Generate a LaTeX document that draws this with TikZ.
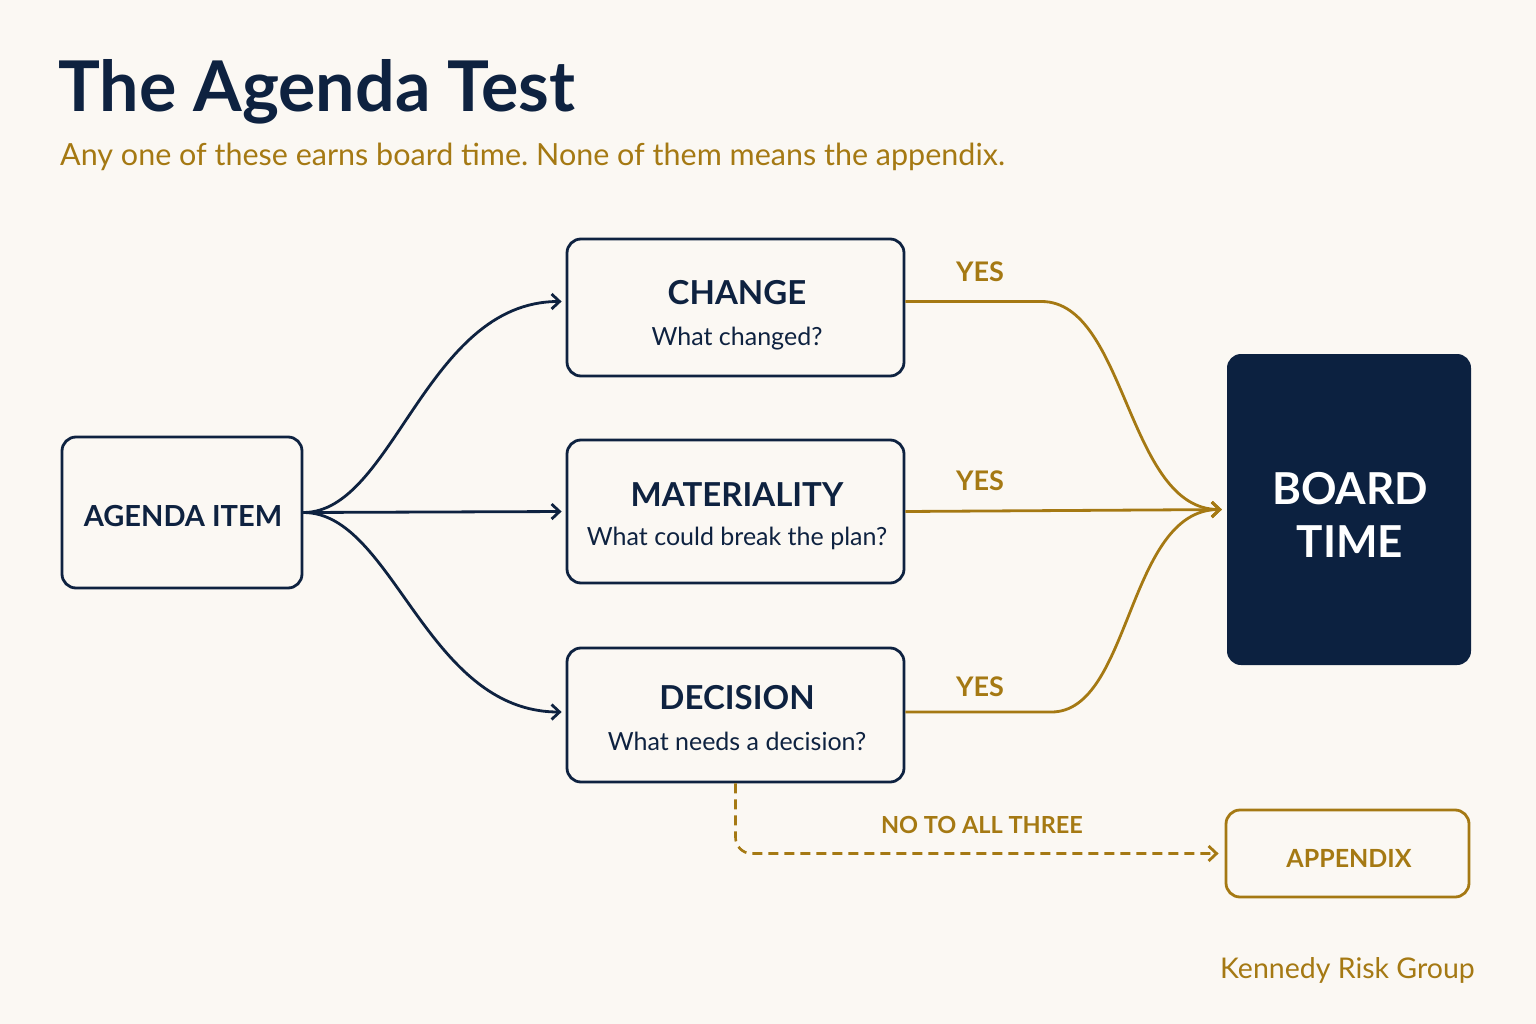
\documentclass[tikz,border=0pt]{standalone}
\usepackage{fontspec}
\setmainfont{Lato}
\usetikzlibrary{arrows.meta}
\definecolor{navy}{HTML}{0E2240}
\definecolor{boardfill}{HTML}{0C2140}
\definecolor{gold}{HTML}{A57913}
\definecolor{bg}{HTML}{FBF8F3}
\frenchspacing
\begin{document}
\begin{tikzpicture}[x=1pt,y=-1pt,
  box/.style={draw=navy, line width=2.8pt, rounded corners=14pt, fill=bg, inner sep=0pt},
  qbox/.style={box, minimum width=337pt},
  headtxt/.style={font=\bfseries\fontsize{33}{36}\selectfont, text=navy, anchor=base, inner sep=0pt},
  subtxt/.style={font=\fontsize{25}{28}\selectfont, text=navy, anchor=base, inner sep=0pt},
  yestxt/.style={font=\bfseries\fontsize{27}{30}\selectfont, text=gold, anchor=base, inner sep=0pt},
  navyarrow/.style={draw=navy, line width=2.8pt, -{Straight Barb[length=8pt,width=15pt,line width=2.8pt]}, shorten >=4pt},
  goldarrow/.style={draw=gold, line width=2.8pt, -{Straight Barb[length=8pt,width=15pt,line width=2.8pt]}, shorten >=5pt},
]
\useasboundingbox (0,0) rectangle (1536,1024);
\fill[bg] (0,0) rectangle (1536,1024);

% title
\node[anchor=base west, inner sep=0pt, text=navy, font=\bfseries\fontsize{70}{80}\selectfont] (title) at (58,112) {The Agenda Test};
\node[anchor=base west, inner sep=0pt, text=gold, font=\fontsize{30.5}{34}\selectfont] (subtitle) at (60,166) {Any one of these earns board time. None of them means the appendix.};

% boxes
\node[box, minimum width=240pt, minimum height=151pt] (agenda) at (182,512.5) {};
\node[anchor=base, inner sep=0pt, text=navy, font=\bfseries\fontsize{29}{32}\selectfont] (agendatxt) at (183,526) {AGENDA ITEM};

\node[qbox, minimum height=137pt] (change) at (735.5,307.5) {};
\node[headtxt] (changeh) at (737,304) {CHANGE};
\node[subtxt] (changes) at (737,345) {What changed?};

\node[qbox, minimum height=143pt] (material) at (735.5,511.5) {};
\node[headtxt] (materialh) at (737,506) {MATERIALITY};
\node[subtxt] (materials) at (737,545) {What could break the plan?};

\node[qbox, minimum height=134pt] (decision) at (735.5,715) {};
\node[headtxt] (decisionh) at (737,709) {DECISION};
\node[subtxt] (decisions) at (737,750) {What needs a decision?};

\node[fill=boardfill, rounded corners=14pt, minimum width=244pt, minimum height=311pt, inner sep=0pt] (board) at (1349,509.5) {};
\node[anchor=base, inner sep=0pt, text=white, font=\bfseries\fontsize{44}{50}\selectfont] (boardl1) at (1350,504) {BOARD};
\node[anchor=base, inner sep=0pt, text=white, font=\bfseries\fontsize{44}{50}\selectfont] (boardl2) at (1350,557) {TIME};

\node[box, draw=gold, minimum width=243pt, minimum height=87pt] (appendix) at (1347.5,853.5) {};
\node[anchor=base, inner sep=0pt, text=gold, font=\bfseries\fontsize{25}{28}\selectfont] (appendixtxt) at (1349,867) {APPENDIX};

% navy connectors
\draw[navyarrow] (agenda.east) .. controls +(90,0) and +(-140,0) .. ([yshift=6pt]change.west);
\draw[navyarrow] (agenda.east) -- (material.west);
\draw[navyarrow] (agenda.east) .. controls +(90,0) and +(-140,0) .. ([yshift=3pt]decision.west);

% gold connectors
\draw[goldarrow] ([yshift=6pt]change.east) -- ++(136,0) .. controls +(85,0) and +(-100,0) .. (board.west);
\draw[goldarrow] (material.east) -- (board.west);
\draw[goldarrow] ([yshift=3pt]decision.east) -- ++(146,0) .. controls +(80,0) and +(-100,0) .. (board.west);
\draw[goldarrow, dash pattern=on 10pt off 6pt, line width=2.6pt, rounded corners=16pt, shorten >=6pt] (decision.south) |- (appendix.west);

% labels
\node[yestxt] (yes1) at (980,282) {YES};
\node[yestxt] (yes2) at (980,490) {YES};
\node[yestxt] (yes3) at (980,696) {YES};
\node[anchor=base, inner sep=0pt, text=gold, font=\bfseries\fontsize{23.5}{28}\selectfont] (notxt) at (982,833) {NO TO ALL THREE};

\node[anchor=base east, inner sep=0pt, text=gold, font=\fontsize{28.5}{32}\selectfont] (brand) at (1475,978) {Kennedy Risk Group};
\end{tikzpicture}
\end{document}
